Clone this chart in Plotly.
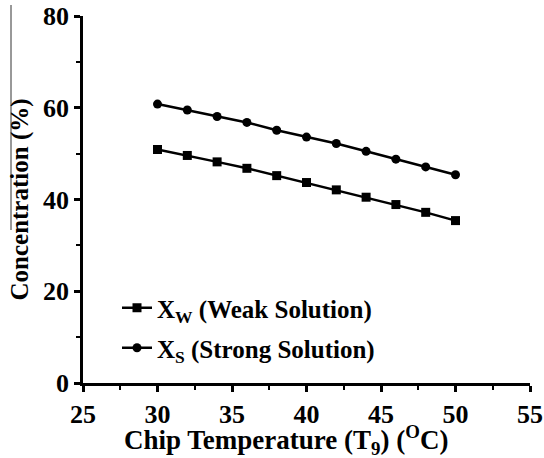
import plotly.graph_objects as go

temps = [30, 32, 34, 36, 38, 40, 42, 44, 46, 48, 50]
x_weak = [50.9, 49.6, 48.2, 46.8, 45.2, 43.7, 42.1, 40.5, 38.9, 37.2, 35.4]
x_strong = [60.8, 59.5, 58.1, 56.8, 55.1, 53.6, 52.2, 50.5, 48.8, 47.1, 45.4]

xticks = [25, 30, 35, 40, 45, 50, 55]
yticks = [0, 20, 40, 60, 80]

FONT = "Liberation Serif"

fig = go.Figure()
fig.add_trace(go.Scatter(
    x=temps, y=x_weak, mode="lines+markers",
    name="<b>X<sub>W</sub> (Weak Solution)</b>",
    line=dict(color="black", width=2.5),
    marker=dict(symbol="square", size=9, color="black"),
    legend="legend",
))
fig.add_trace(go.Scatter(
    x=temps, y=x_strong, mode="lines+markers",
    name="<b>X<sub>S</sub> (Strong Solution)</b>",
    line=dict(color="black", width=2.5),
    marker=dict(symbol="circle", size=9, color="black"),
    legend="legend2",
))

axis_common = dict(
    showgrid=False, zeroline=False, showline=True, linecolor="black", linewidth=2.5,
    ticks="outside", ticklen=6, tickwidth=2.5, tickcolor="black",
    tickfont=dict(family=FONT, size=26, color="black", weight="bold"),
    minor=dict(ticks="outside", ticklen=4, tickwidth=2, tickcolor="black"),
    mirror=False, automargin=False,
)

LEG_FONT = dict(family=FONT, size=25, color="black")

fig.update_layout(
    width=544, height=458,
    margin=dict(l=83, r=14, t=16, b=75),
    plot_bgcolor="white", paper_bgcolor="white",
    xaxis=dict(range=[25, 55], tickvals=xticks, ticktext=[str(v) for v in xticks],
               minor_dtick=2.5, **axis_common),
    yaxis=dict(range=[0, 80], tickvals=yticks, ticktext=[str(v) for v in yticks],
               title=dict(text="<b>Concentration (%)</b>",
                          font=dict(family=FONT, size=25, color="black"), standoff=8),
               minor_dtick=10, **axis_common),
    legend=dict(x=(117 - 83) / 447, y=(383 - 308) / 367, xanchor="left", yanchor="middle",
                bgcolor="rgba(0,0,0,0)", font=LEG_FONT),
    legend2=dict(x=(117 - 83) / 447, y=(383 - 348) / 367, xanchor="left", yanchor="middle",
                 bgcolor="rgba(0,0,0,0)", font=LEG_FONT),
    showlegend=True,
)

fig.add_annotation(
    text="<b>Chip Temperature (T<sub>9</sub>) (<sup>O</sup>C)</b>",
    xref="paper", yref="paper", x=(286 - 83) / 447, y=(383 - 440) / 367,
    xanchor="center", yanchor="middle", showarrow=False,
    font=dict(family=FONT, size=27, color="black"),
)

fig.add_shape(type="line", xref="paper", yref="paper",
              x0=(11 - 83) / 447, x1=(11 - 83) / 447,
              y0=(383 - 5) / 367, y1=(383 - 230) / 367,
              line=dict(color="#333333", width=1))

fig.write_html("out.html", config={"displayModeBar": False},
               post_script="document.body.style.margin='0';document.body.style.overflow='hidden';")
